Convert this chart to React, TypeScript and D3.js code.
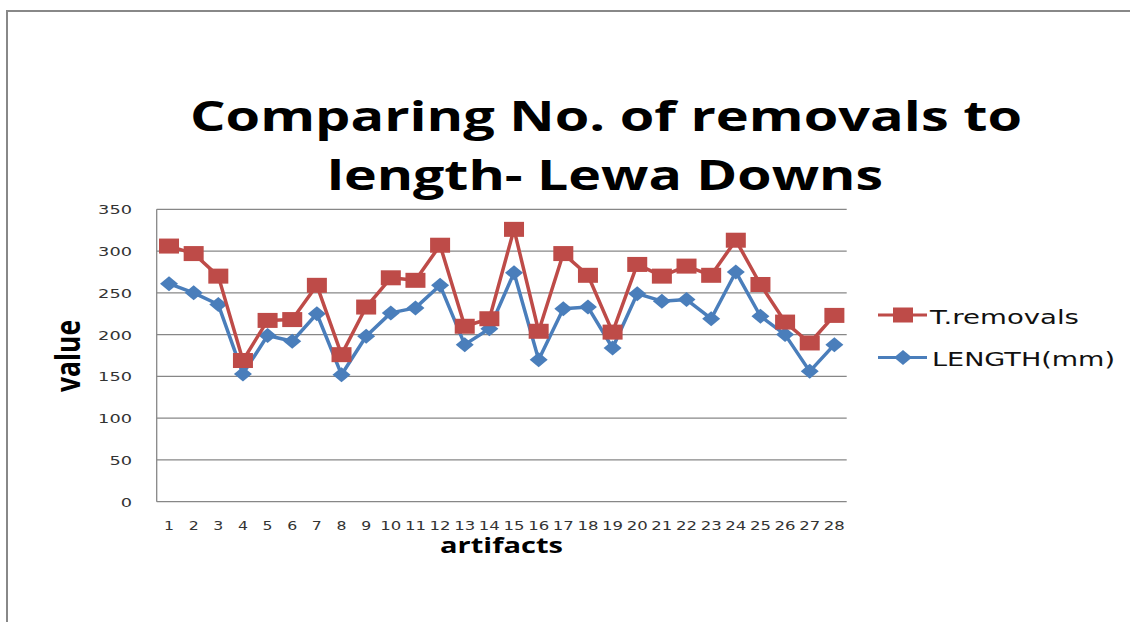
import React from "react";
import * as d3 from "d3";

const artifacts = Array.from({ length: 28 }, (_, i) => String(i + 1));
const tRemovals = [306, 297, 270, 169, 217, 218, 259, 176, 233, 268, 265, 307, 210, 219, 326, 204, 297, 271, 203, 284, 270, 282, 271, 313, 260, 215, 190, 223];
const lengthMm = [261, 250, 236, 153, 199, 192, 225, 152, 198, 226, 232, 259, 188, 207, 274, 170, 231, 233, 184, 249, 240, 242, 219, 275, 222, 200, 156, 188];
const yTicks = [0, 50, 100, 150, 200, 250, 300, 350];
const seriesNames = ["T.removals", "LENGTH(mm)"];

const RED = "#BE4B48";
const BLUE = "#4A7EBB";
const GRID = "#878787";

export default function App() {
  const left = 156.7, right = 846.7, top = 209.3, bottom = 501.7;
  const x = d3.scaleBand<string>().domain(artifacts).range([left, right]);
  const y = d3.scaleLinear().domain([0, 350]).range([bottom, top]);
  const cx = (i: number) => (x(artifacts[i]) as number) + x.bandwidth() / 2;
  const line = d3.line<number>().x((_, i) => cx(i)).y((d) => y(d));

  const square = (px: number, py: number, k: string) => (
    <rect key={k} x={px - 10} y={py - 7.5} width={20} height={15} fill={RED} />
  );
  const diamond = (px: number, py: number, k: string) => (
    <path key={k} d={`M${px - 9},${py} L${px},${py - 7.5} L${px + 9},${py} L${px},${py + 7.5} Z`} fill={BLUE} />
  );

  return (
    <div style={{ position: "absolute", left: 0, top: 0 }}>
      <svg width={1130} height={622} style={{ display: "block", background: "#fff" }}>
        <rect x={7} y={11} width={1200} height={700} fill="#fff" stroke="#888" strokeWidth={2} />
        {/* Title */}
        <g fontFamily="'Open Sans', sans-serif" fontWeight="bold" fill="#000" textAnchor="middle">
          <text x={606} y={131} fontSize={41} textLength={832} lengthAdjust="spacingAndGlyphs">Comparing No. of removals to</text>
          <text x={605} y={190} fontSize={41} textLength={556} lengthAdjust="spacingAndGlyphs">length- Lewa Downs</text>
        </g>
        {/* Grid */}
        {yTicks.map((t) => (
          <line key={"g" + t} x1={left} x2={right} y1={y(t)} y2={y(t)} stroke={GRID} strokeWidth={1.3} />
        ))}
        <line x1={left} x2={left} y1={top} y2={bottom} stroke={GRID} strokeWidth={1.3} />
        {/* Y ticks */}
        <g fontFamily="'DejaVu Sans', sans-serif" fontSize={13} fill="#333" textAnchor="end">
          {yTicks.map((t) => (
            <text key={"y" + t} x={132} y={y(t) + 5} textLength={String(t).length * 11.3} lengthAdjust="spacingAndGlyphs">{t}</text>
          ))}
        </g>
        {/* X ticks */}
        <g fontFamily="'DejaVu Sans', sans-serif" fontSize={13} fill="#333" textAnchor="middle">
          {artifacts.map((a, i) => (
            <text key={"x" + a} x={cx(i)} y={529.5} textLength={a.length === 1 ? 10 : 21} lengthAdjust="spacingAndGlyphs">{a}</text>
          ))}
        </g>
        {/* Axis titles */}
        <text x={501.5} y={553} fontFamily="'Open Sans', sans-serif" fontWeight="bold" fontSize={22} textAnchor="middle" textLength={123} lengthAdjust="spacingAndGlyphs">artifacts</text>
        <g transform="translate(79.5,356) scale(1.45,1) rotate(-90)">
          <text x={0} y={0} fontFamily="'Open Sans', sans-serif" fontWeight="bold" fontSize={24} textAnchor="middle" textLength={72} lengthAdjust="spacingAndGlyphs">value</text>
        </g>
        {/* Series */}
        <path d={line(lengthMm) || ""} fill="none" stroke={BLUE} strokeWidth={3.5} strokeLinejoin="round" />
        {lengthMm.map((v, i) => diamond(cx(i), y(v), "d" + i))}
        <path d={line(tRemovals) || ""} fill="none" stroke={RED} strokeWidth={3.5} strokeLinejoin="round" />
        {tRemovals.map((v, i) => square(cx(i), y(v), "s" + i))}
        {/* Legend */}
        <line x1={878} x2={927} y1={315} y2={315} stroke={RED} strokeWidth={3} />
        {square(903, 315, "ls")}
        <line x1={878} x2={927} y1={357.5} y2={357.5} stroke={BLUE} strokeWidth={3} />
        {diamond(903, 357.5, "ld")}
        <g fontFamily="'DejaVu Sans', sans-serif" fontSize={19} fill="#111">
          <text x={930} y={323.5} textLength={149} lengthAdjust="spacingAndGlyphs">{seriesNames[0]}</text>
          <text x={932} y={365.5} textLength={183} lengthAdjust="spacingAndGlyphs">{seriesNames[1]}</text>
        </g>
      </svg>
    </div>
  );
}
